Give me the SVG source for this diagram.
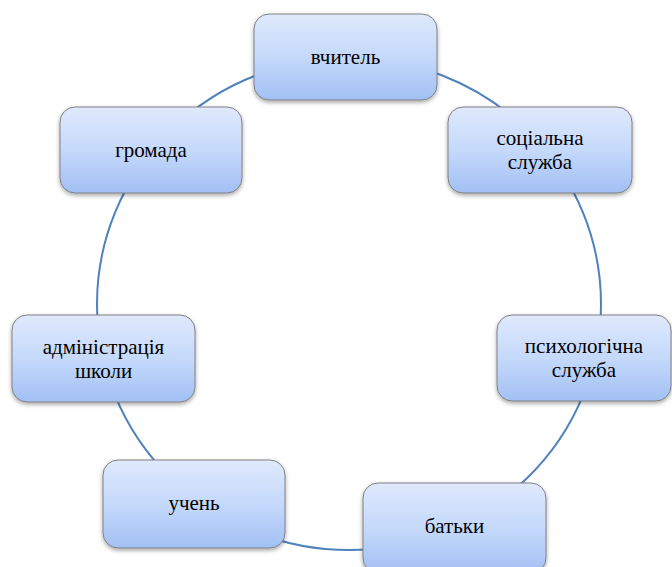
<svg xmlns="http://www.w3.org/2000/svg" width="672" height="567" viewBox="0 0 672 567">
<defs>
<linearGradient id="g" x1="0" y1="0" x2="0" y2="1">
<stop offset="0" stop-color="#dfe9fc"/>
<stop offset="0.5" stop-color="#c5d9fb"/>
<stop offset="1" stop-color="#a2c0f4"/>
</linearGradient>
<filter id="sh" x="-10%" y="-10%" width="130%" height="140%">
<feDropShadow dx="0" dy="2" stdDeviation="2" flood-color="#000" flood-opacity="0.35"/>
</filter>
</defs>
<style>
.box{fill:url(#g);stroke:#808080;stroke-width:1;filter:url(#sh)}
.t{font-family:"Liberation Serif","DejaVu Serif",serif;font-size:21px;fill:#000;text-anchor:middle}
.c{fill:none;stroke:#4f81bd;stroke-width:2}
</style>
<rect width="672" height="567" fill="#fff"/>
<g id="connectors">
<ellipse class="c" cx="349" cy="304" rx="252" ry="246"/>
</g>
<g id="n1"><rect class="box" x="254" y="14" width="183" height="86" rx="15"/><text class="t" x="345.5" y="64">вчитель</text></g>
<g id="n2"><rect class="box" x="448" y="107" width="184" height="86" rx="15"/><text class="t" x="540" y="145">соціальна</text><text class="t" x="540" y="169">служба</text></g>
<g id="n3"><rect class="box" x="497" y="315" width="174" height="86" rx="15"/><text class="t" x="584" y="353">психологічна</text><text class="t" x="584" y="377">служба</text></g>
<g id="n4"><rect class="box" x="363" y="483" width="183" height="90" rx="15"/><text class="t" x="454.5" y="533">батьки</text></g>
<g id="n5"><rect class="box" x="103" y="460" width="182" height="88" rx="15"/><text class="t" x="194" y="510">учень</text></g>
<g id="n6"><rect class="box" x="12" y="315" width="183" height="87" rx="15"/><text class="t" x="103.5" y="354">адміністрація</text><text class="t" x="103.5" y="378">школи</text></g>
<g id="n7"><rect class="box" x="60" y="107" width="182" height="86" rx="15"/><text class="t" x="151" y="157">громада</text></g>
</svg>
